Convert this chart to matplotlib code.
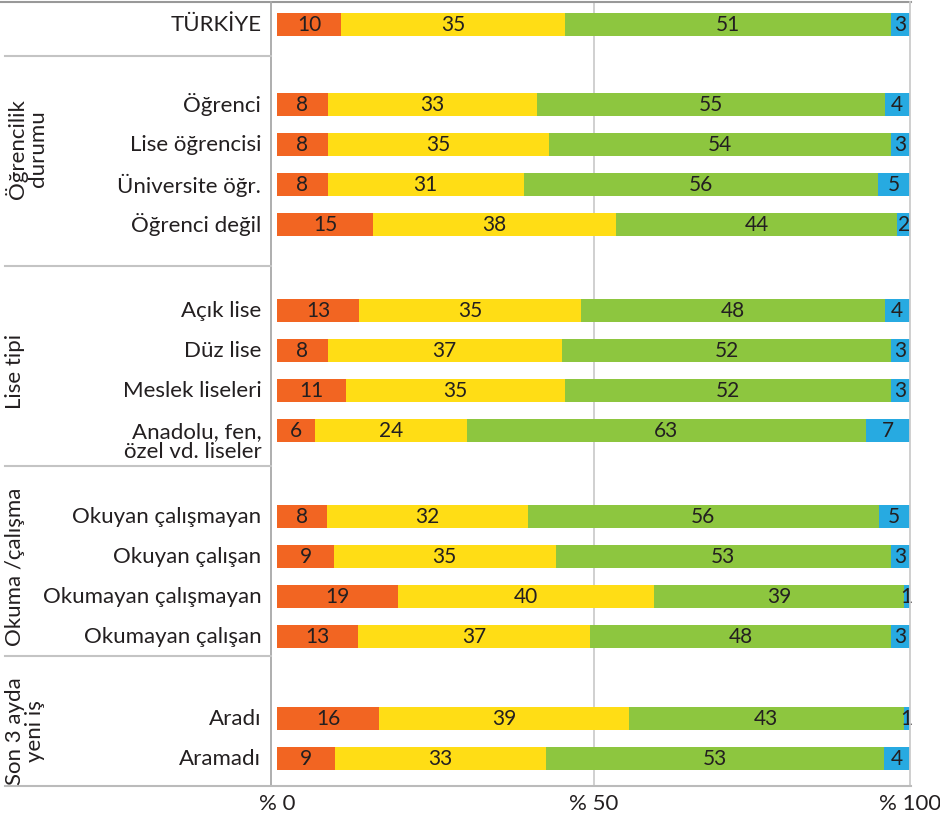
import matplotlib.pyplot as plt
from matplotlib.lines import Line2D
import numpy as np

plt.rcParams['font.family'] = ['Lato', 'DejaVu Sans']

# data
rows = ["TÜRKİYE",
        "Öğrenci", "Lise öğrencisi", "Üniversite öğr.", "Öğrenci değil",
        "Açık lise", "Düz lise", "Meslek liseleri", "Anadolu, fen,\nözel vd. liseler",
        "Okuyan çalışmayan", "Okuyan çalışan", "Okumayan çalışmayan", "Okumayan çalışan",
        "Aradı", "Aramadı"]
seg1 = [10, 8, 8, 8, 15, 13, 8, 11, 6, 8, 9, 19, 13, 16, 9]
seg2 = [35, 33, 35, 31, 38, 35, 37, 35, 24, 32, 35, 40, 37, 39, 33]
seg3 = [51, 55, 54, 56, 44, 48, 52, 52, 63, 56, 53, 39, 48, 43, 53]
seg4 = [3, 4, 3, 5, 2, 4, 3, 3, 7, 5, 3, 1, 3, 1, 4]
groups = ["Öğrencilik\ndurumu", "Lise tipi", "Okuma /çalışma", "Son 3 ayda\nyeni iş"]
group_sizes = [4, 4, 4, 2]
xticks = [0, 50, 100]
xtick_labels = ["% 0", "% 50", "% 100"]

colors = ['#F26522', '#FFDD15', '#8DC63F', '#27AAE1']
text_c = '#231f20'

W, H = 940, 820
fig = plt.figure(figsize=(W / 100, H / 100), dpi=100)


def fx(px):
    return px / W


def fy(py):
    return 1 - py / H


ax = fig.add_axes([fx(271), fy(787), fx(910) - fx(271), fy(3) - fy(787)])

# row positions (rows are 1 unit apart, groups separated by gaps)
gaps = [2.0, 2.15, 2.15, 2.05]
ypos = [0.0]
seps = []
sep_off = [0.8, 1.05, 0.9, 0.5]
group_y = []
label_shift = [-0.4, 0.0, -0.25, -0.2]
for gi, n in enumerate(group_sizes):
    seps.append(ypos[-1] + sep_off[gi])
    start = ypos[-1] + gaps[gi]
    for k in range(n):
        ypos.append(start + k)
    group_y.append(start + (n - 1) / 2 + label_shift[gi])
ypos = np.array(ypos)

vals = np.array([seg1, seg2, seg3, seg4], dtype=float)
pct = vals / vals.sum(axis=0) * 100

left = np.zeros(len(rows))
for i in range(4):
    ax.barh(ypos, pct[i], left=left, height=0.575, color=colors[i], zorder=3)
    for j in range(len(rows)):
        ax.text(left[j] + pct[i][j] / 2, ypos[j], str(int(vals[i][j])),
                ha='center', va='center', fontsize=15, color=text_c, zorder=4)
    left += pct[i]

ax.axvline(50, color='#c8c8c8', lw=1.2, zorder=1)

ax.set_xlim(-0.95, 100)
ax.set_ylim(19.05, -0.55)
ax.set_yticks([])
ax.set_xticks(xticks)
ax.set_xticklabels(xtick_labels, fontsize=16, color=text_c)
ax.tick_params(axis='x', length=0, pad=5)
for s in ax.spines.values():
    s.set_visible(False)

# row labels
for j, lab in enumerate(rows):
    dy = -8 if '\n' in lab else 0
    ax.annotate(lab, xy=(0, ypos[j]), xycoords=('axes fraction', 'data'),
                xytext=(-7, dy), textcoords='offset points',
                ha='right', va='center', fontsize=16, color=text_c,
                multialignment='right', linespacing=1.0)

# group labels
for gi, g in enumerate(groups):
    yy = ax.transData.transform((0, group_y[gi]))[1]
    yy = fig.transFigure.inverted().transform((0, yy))[1]
    fig.text(fx(5), yy, g, rotation=90, ha='left', va='center', fontsize=16,
             color=text_c, multialignment='center', linespacing=1.0)

# frame lines
fig.add_artist(Line2D([fx(0), fx(911)], [fy(3), fy(3)], color='#999999', lw=1.5))
fig.add_artist(Line2D([fx(271), fx(271)], [fy(3), fy(787)], color='#a8a8a8', lw=1.3))
fig.add_artist(Line2D([fx(910), fx(910)], [fy(3), fy(787)], color='#cccccc', lw=1.3))
fig.add_artist(Line2D([fx(5), fx(911)], [fy(787), fy(787)], color='#bbbbbb', lw=1.5))
for s in seps:
    yy = ax.transData.transform((0, s))[1]
    yy = fig.transFigure.inverted().transform((0, yy))[1]
    fig.add_artist(Line2D([fx(5), fx(271)], [yy, yy], color='#c4c4c4', lw=1.5))

plt.savefig("out.png", dpi=100)
